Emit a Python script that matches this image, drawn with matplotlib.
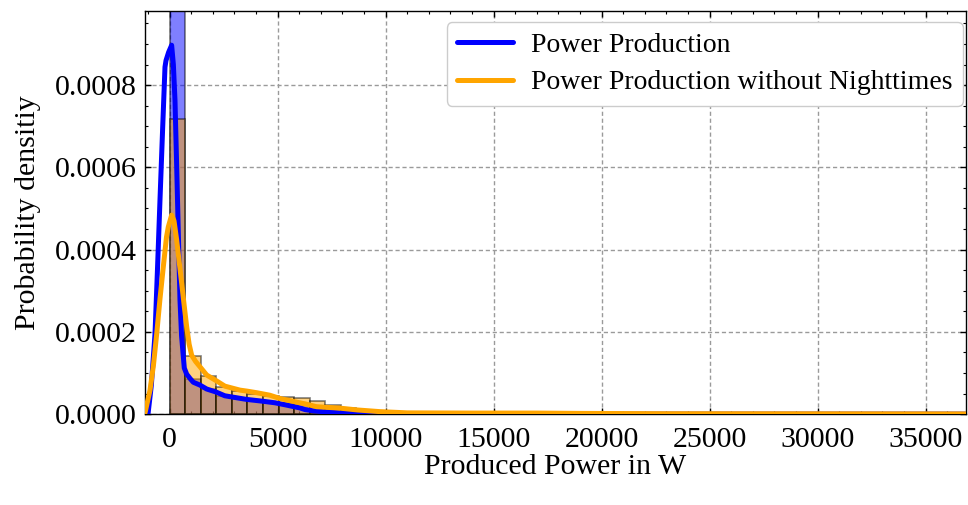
import matplotlib
matplotlib.use("Agg")
import matplotlib.pyplot as plt
from matplotlib.ticker import MultipleLocator, FormatStrFormatter

# Histogram bins (width in W) and densities per bin
bin_width = 720
bin_starts = [0, 720, 1440, 2160, 2880, 3600, 4320, 5040, 5760, 6480,
              7200, 7920, 8640, 9360, 10080, 10800]
hist_all = [0.00101, 0.000085, 0.000060, 0.000044, 0.000036, 0.000031,
            0.000029, 0.000027, 0.000024, 0.000020, 0.000014, 0.000009,
            0.000005, 0.000003, 0.000002, 0.000001]
hist_day = [0.000717, 0.000141, 0.000092, 0.000066, 0.000055, 0.000048,
            0.000045, 0.000042, 0.000038, 0.000032, 0.000022, 0.000014,
            0.000008, 0.000005, 0.000003, 0.000002]

# Kernel density estimates
kde_all_x = [-1143, -1000, -850, -680, -560, -450, -330, -218, -170, -50,
             90, 170, 245, 324, 400, 477, 550, 676, 787, 940, 1093, 1403,
             1713, 2130, 2555, 2840, 3565, 4260, 4875, 5400, 6030, 6264,
             6650, 7300, 7880, 9000, 10000, 36870]
kde_all_y = [0.0, 0.000002, 0.00007, 0.000195, 0.00036, 0.00052, 0.00069,
             0.000844, 0.00086, 0.00088, 0.000897, 0.00085, 0.000763,
             0.000601, 0.00044, 0.000277, 0.00019, 0.000112, 0.000097,
             0.0000867, 0.0000775, 0.0000705, 0.000061, 0.000054, 0.0000445,
             0.000042, 0.0000357, 0.0000316, 0.0000275, 0.000022, 0.000015,
             0.000011, 0.000008, 0.000005, 0.000003, 0.0000005, 0.0, 0.0]

kde_day_x = [-1143, -912, -750, -600, -450, -296, -150, -65, 90, 200, 324,
             440, 555, 680, 787, 900, 1018, 1200, 1403, 1713, 2130, 2555,
             2840, 3255, 3565, 4028, 4630, 5106, 5880, 6264, 6800, 7880,
             8700, 9730, 11000, 14000, 17000, 19000, 23000, 30000, 36870]
kde_day_y = [0.000003, 0.000058, 0.00012, 0.000196, 0.00028, 0.000358,
             0.00043, 0.000455, 0.000484, 0.00047, 0.000423, 0.00037,
             0.000318, 0.00026, 0.000212, 0.00017, 0.000143, 0.000128,
             0.000115, 0.000095, 0.000082, 0.000068, 0.000064, 0.0000583,
             0.000056, 0.000052, 0.000046, 0.000038, 0.000029, 0.000025,
             0.000018, 0.0000145, 0.000010, 0.000006, 0.000003, 0.0000025,
             0.0000025, 0.0000017, 0.000001, 0.0000008, 0.0000005]

labels = ["Power Production", "Power Production without Nighttimes"]
colors = ["blue", "orange"]

plt.rcParams["font.family"] = ["Liberation Serif", "DejaVu Serif"]

fig = plt.figure(figsize=(9.68, 5.05), dpi=100)
ax = fig.add_axes([0.1498, 0.180, 0.8482, 0.798])

ax.bar(bin_starts, hist_all, width=bin_width, align="edge", color=colors[0],
       edgecolor="black", linewidth=1.2, alpha=0.5, zorder=2)
ax.bar(bin_starts, hist_day, width=bin_width, align="edge", color=colors[1],
       edgecolor="black", linewidth=1.2, alpha=0.5, zorder=2)

ax.plot(kde_all_x, kde_all_y, color=colors[0], lw=3.6, label=labels[0],
        zorder=3, solid_joinstyle="round", solid_capstyle="round")
ax.plot(kde_day_x, kde_day_y, color=colors[1], lw=3.6, label=labels[1],
        zorder=3, solid_joinstyle="round", solid_capstyle="round")

ax.set_xlim(-1143, 36870)
ax.set_ylim(0, 0.00098)

ax.xaxis.set_major_locator(MultipleLocator(5000))
ax.xaxis.set_minor_locator(MultipleLocator(1000))
ax.yaxis.set_major_locator(MultipleLocator(0.0002))
ax.yaxis.set_minor_locator(MultipleLocator(0.00005))
ax.yaxis.set_major_formatter(FormatStrFormatter("%.4f"))

ax.tick_params(which="both", direction="in", top=True, right=True,
               labelsize=21.5)
ax.tick_params(which="major", length=4, width=1)
ax.tick_params(which="minor", length=2.2, width=0.8)
ax.tick_params(axis="x", pad=9)
ax.tick_params(axis="y", pad=6)

ax.grid(True, which="major", color="#9a9a9a", linestyle=(0, (3, 2)),
        linewidth=1.0, zorder=0)
ax.set_axisbelow(True)

for s in ax.spines.values():
    s.set_linewidth(1.0)

ax.set_xlabel("Produced Power in W", fontsize=21.5, labelpad=1)
ax.set_ylabel("Probability densitiy", fontsize=21.5, labelpad=10)

leg = ax.legend(loc="upper right", bbox_to_anchor=(0.9963, 0.9727),
                borderaxespad=0, fontsize=20, frameon=True, fancybox=True,
                edgecolor="#cccccc", framealpha=1.0, handlelength=2.0,
                handletextpad=0.65, borderpad=0.38, labelspacing=0.42)
for line in leg.get_lines():
    line.set_linewidth(3.6)

fig.savefig("out.png", dpi=100)
